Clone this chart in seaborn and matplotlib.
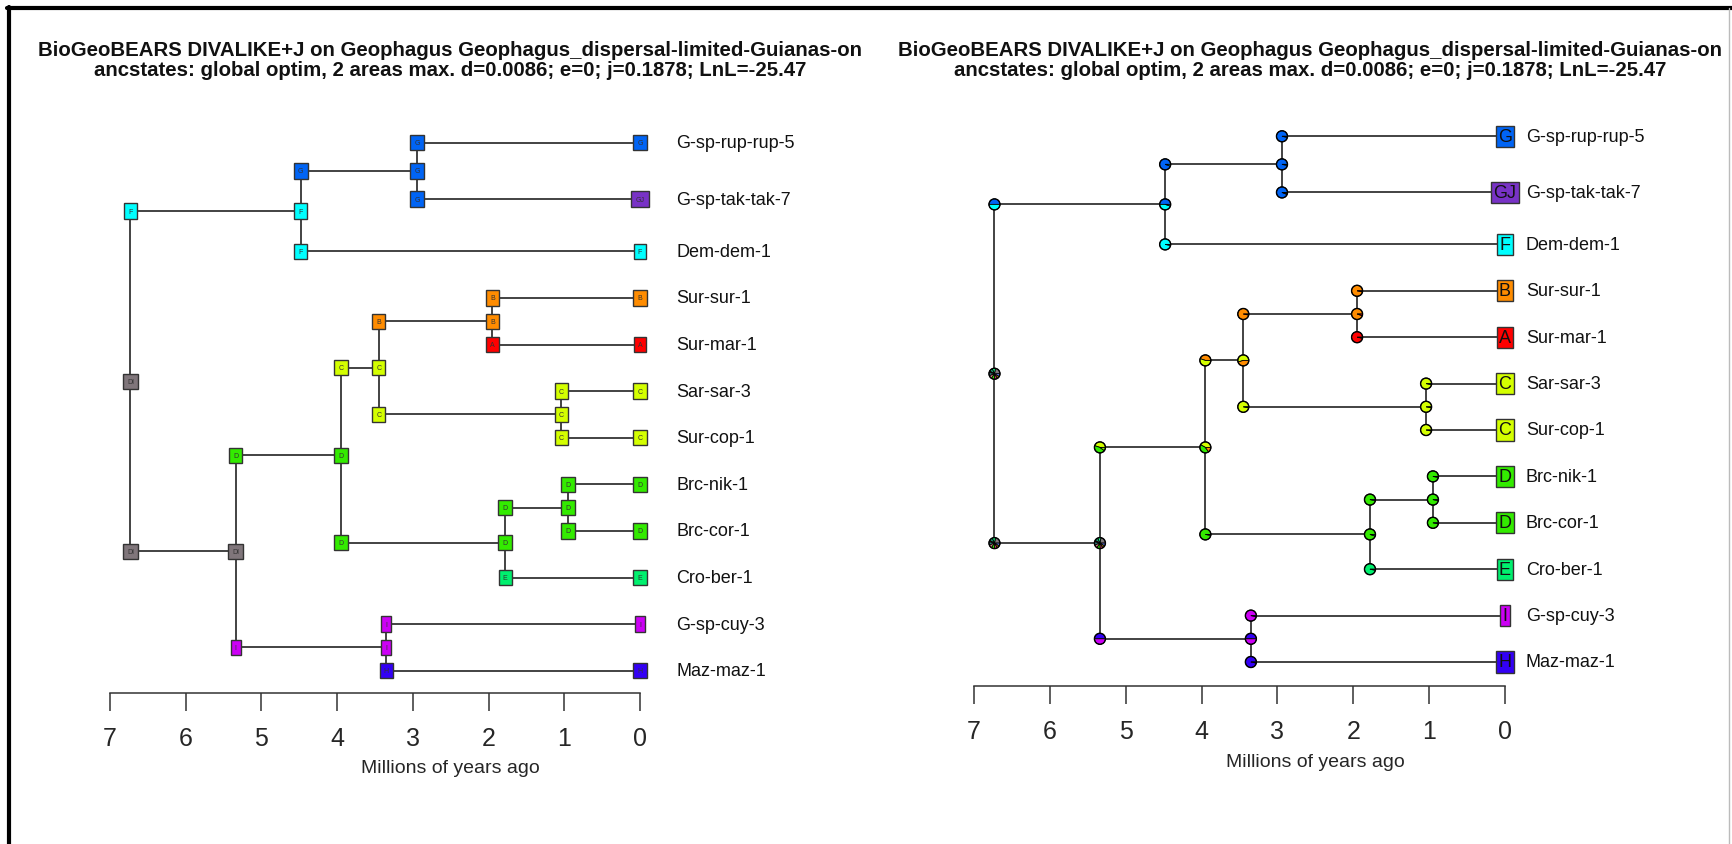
import numpy as np
import pandas as pd
import matplotlib
matplotlib.use("Agg")
import matplotlib.pyplot as plt
import seaborn as sns
from matplotlib.patches import Wedge, Circle
from matplotlib.transforms import ScaledTranslation
from matplotlib.lines import Line2D

# ---------------- data ----------------
title_line1 = "BioGeoBEARS DIVALIKE+J on Geophagus Geophagus_dispersal-limited-Guianas-on"
title_line2 = "ancstates: global optim, 2 areas max. d=0.0086; e=0; j=0.1878; LnL=-25.47"
xlabel_text = "Millions of years ago"
time_ticks = [0, 1, 2, 3, 4, 5, 6, 7]

tip_names = ["G-sp-rup-rup-5", "G-sp-tak-tak-7", "Dem-dem-1", "Sur-sur-1", "Sur-mar-1",
             "Sar-sar-3", "Sur-cop-1", "Brc-nik-1", "Brc-cor-1", "Cro-ber-1",
             "G-sp-cuy-3", "Maz-maz-1"]
tip_pos = [11.33, 10.12, 9, 8, 7, 6, 5, 4, 3, 2, 1, 0]
tip_states = ["G", "GJ", "F", "B", "A", "C", "C", "D", "D", "E", "I", "H"]

node_names = ["root", "nF", "nG", "nDI", "nD1", "nC1", "nB", "nC2", "nD2", "nD3", "nI"]
node_ages = [6.73, 4.48, 2.94, 5.34, 3.95, 3.45, 1.95, 1.04, 1.78, 0.95, 3.35]
node_children = [("nF", "nDI"), ("nG", "Dem-dem-1"), ("G-sp-rup-rup-5", "G-sp-tak-tak-7"),
                 ("nD1", "nI"), ("nC1", "nD2"), ("nB", "nC2"), ("Sur-sur-1", "Sur-mar-1"),
                 ("Sar-sar-3", "Sur-cop-1"), ("nD3", "Cro-ber-1"), ("Brc-nik-1", "Brc-cor-1"),
                 ("G-sp-cuy-3", "Maz-maz-1")]
# most probable states (left panel)
node_states = ["DI", "F", "G", "DI", "D", "C", "B", "C", "D", "D", "I"]
corner_states = [("F", "DI"), ("G", "F"), ("G", "G"), ("D", "I"), ("C", "D"), ("B", "C"),
                 ("B", "A"), ("C", "C"), ("D", "E"), ("D", "D"), ("I", "H")]

# state probabilities (right panel pies)
root_states = ["DI", "DF", "DG", "A", "DH", "CI", "D", "BI", "AD", "FI"]
root_probs = [0.22, 0.10, 0.10, 0.04, 0.10, 0.10, 0.10, 0.08, 0.08, 0.08]
node_pie_states = [root_states, ["G", "F", "FG"], ["G", "F"],
                   root_states, ["C", "D", "B"], ["C", "B"],
                   ["B", "A"], ["C", "D"], ["D", "E"], ["D", "E"], ["H", "I"]]
node_pie_probs = [root_probs, [0.50, 0.45, 0.05], [0.97, 0.03],
                  root_probs, [0.42, 0.43, 0.15], [0.55, 0.45],
                  [0.95, 0.05], [0.97, 0.03], [0.95, 0.05], [0.97, 0.03], [0.50, 0.50]]
corner_pie_states = [(["G", "F"], root_states),
                     (["G", "F"], ["F", "G"]),
                     (["G", "F"], ["G", "A", "F"]),
                     (["C", "D", "CD"], ["H", "I"]),
                     (["B", "C"], ["D", "E"]),
                     (["B", "A"], ["C", "D"]),
                     (["B", "A"], ["A", "B"]),
                     (["C", "D"], ["C", "D"]),
                     (["D", "E"], ["E", "D"]),
                     (["D", "E"], ["D", "E"]),
                     (["I", "H"], ["H", "I"])]
corner_pie_probs = [([0.50, 0.50], root_probs),
                    ([0.95, 0.05], [0.97, 0.03]),
                    ([0.97, 0.03], [0.94, 0.03, 0.03]),
                    ([0.45, 0.45, 0.10], [0.50, 0.50]),
                    ([0.45, 0.55], [0.97, 0.03]),
                    ([0.97, 0.03], [0.97, 0.03]),
                    ([0.97, 0.03], [0.97, 0.03]),
                    ([0.97, 0.03], [0.97, 0.03]),
                    ([0.97, 0.03], [0.97, 0.03]),
                    ([0.97, 0.03], [0.97, 0.03]),
                    ([0.97, 0.03], [0.97, 0.03])]

# ---------------- style ----------------
area_rgb = {"A": (255, 0, 0), "B": (255, 140, 0), "C": (212, 255, 0), "D": (51, 235, 0),
            "E": (0, 240, 110), "F": (0, 255, 255), "G": (0, 100, 245), "H": (51, 0, 245),
            "I": (204, 0, 245), "J": (240, 0, 150)}


def range_color(rng):
    arr = np.array([area_rgb[a] for a in rng], dtype=float).mean(axis=0) / 255.0
    return tuple(arr)


sns.set_style("white")
plt.rcParams["font.family"] = ["Liberation Sans", "DejaVu Sans"]

W, H = 1732, 845
DPI = 100
fig = plt.figure(figsize=(W / DPI, H / DPI), dpi=DPI)

name_to_idx = {n: i for i, n in enumerate(node_names)}
tip_to_idx = {n: i for i, n in enumerate(tip_names)}


def ypos(name):
    if name in tip_to_idx:
        return tip_pos[tip_to_idx[name]]
    c1, c2 = node_children[name_to_idx[name]]
    return (ypos(c1) + ypos(c2)) / 2.0


def age(name):
    if name in tip_to_idx:
        return 0.0
    return node_ages[name_to_idx[name]]


def make_axes(left_px, right_px, top_px, spine_px, x7_px, x0_px, y0_px, dy_px):
    ax = fig.add_axes([left_px / W, 1 - spine_px / H, (right_px - left_px) / W,
                       (spine_px - top_px) / H])
    s = (x0_px - x7_px) / 7.0
    xl = (7 + (x7_px - left_px) / s, -(right_px - x0_px) / s)
    yl = (-(spine_px - y0_px) / dy_px, (y0_px - top_px) / dy_px)
    return ax, xl, yl


def draw_branches(ax):
    rows = []
    seg = 0
    for i, n in enumerate(node_names):
        a = node_ages[i]
        c1, c2 = node_children[i]
        rows += [(seg, a, ypos(c1)), (seg, a, ypos(c2))]
        seg += 1
        for c in (c1, c2):
            rows += [(seg, a, ypos(c)), (seg, age(c), ypos(c))]
            seg += 1
    df = pd.DataFrame(rows, columns=["seg", "x", "y"])
    sns.lineplot(data=df, x="x", y="y", units="seg", estimator=None, sort=False,
                 color="#222222", linewidth=1.2, ax=ax, legend=False)


def style_axis(ax, xl, yl, lab_x, lab_y):
    ax.set_xlim(*xl)
    ax.set_ylim(*yl)
    for sp in ["left", "right", "top"]:
        ax.spines[sp].set_visible(False)
    ax.spines["bottom"].set_bounds(0, 7)
    ax.spines["bottom"].set_color("#333333")
    ax.spines["bottom"].set_linewidth(1.1)
    ax.set_yticks([])
    ax.set_ylabel("")
    ax.set_xticks(time_ticks)
    ax.set_xticklabels([str(t) for t in time_ticks])
    ax.tick_params(axis="x", direction="out", length=13, width=1.1, color="#333333",
                   pad=11, labelsize=18, bottom=True)
    ax.set_xlabel(xlabel_text, fontsize=14)
    ax.xaxis.set_label_coords(lab_x, lab_y)
    ax.patch.set_alpha(0)


def small_box(ax, x, y, st):
    ax.text(x, y, st, ha="center", va="center", fontsize=5, color="#333333", zorder=6,
            bbox=dict(boxstyle="square,pad=0.6", fc=range_color(st), ec="#333333", lw=1.0))


def big_box(ax, x, y, st):
    ax.text(x, y, st, ha="center", va="center", fontsize=13, color="#111111", zorder=6,
            bbox=dict(boxstyle="square,pad=0.12", fc=range_color(st), ec="#333333", lw=1.0))


def draw_pie(ax, x, y, states, probs, r_px=5.5):
    trans = fig.dpi_scale_trans + ScaledTranslation(x, y, ax.transData)
    r = r_px / DPI
    start = 0.0
    for st, p in zip(states, probs):
        end = start + 360.0 * p
        ax.add_patch(Wedge((0, 0), r, start, end, transform=trans, fc=range_color(st),
                           ec="black", lw=0.6, zorder=5))
        start = end
    ax.add_patch(Circle((0, 0), r, transform=trans, fc="none", ec="black", lw=1.0, zorder=5))


def tip_labels(ax, offset_pt):
    for n, y in zip(tip_names, tip_pos):
        ax.annotate(n, (0, y), xytext=(offset_pt, 0), textcoords="offset points", ha="left",
                    va="center", fontsize=13, color="#111111", annotation_clip=False)


# ---------------- left panel: boxes ----------------
axL, xlL, ylL = make_axes(100, 860, 110, 693.7, 110, 640, 671.7, 46.6)
draw_branches(axL)
for i, n in enumerate(node_names):
    a = node_ages[i]
    small_box(axL, a, ypos(n), node_states[i])
    for c, st in zip(node_children[i], corner_states[i]):
        small_box(axL, a, ypos(c), st)
for y, st in zip(tip_pos, tip_states):
    small_box(axL, 0, y, st)
tip_labels(axL, 26)
style_axis(axL, xlL, ylL, (450 - 100) / 760, (693.7 - 760.5) / (693.7 - 110))

# ---------------- right panel: pies ----------------
axR, xlR, ylR = make_axes(964, 1725, 110, 687, 974, 1505, 663, 46.4)
draw_branches(axR)
style_axis(axR, xlR, ylR, (1315 - 964) / 761, (687 - 754.5) / (687 - 110))
for i, n in enumerate(node_names):
    a = node_ages[i]
    draw_pie(axR, a, ypos(n), node_pie_states[i], node_pie_probs[i])
    for k, c in enumerate(node_children[i]):
        draw_pie(axR, a, ypos(c), corner_pie_states[i][k], corner_pie_probs[i][k])
for y, st in zip(tip_pos, tip_states):
    big_box(axR, 0, y, st)
tip_labels(axR, 15)

# ---------------- titles ----------------
for cx in (450, 1310):
    fig.text(cx / W, 1 - 50 / H, title_line1, ha="center", va="center", fontsize=14.7,
             fontweight="bold", color="#111111")
    fig.text(cx / W, 1 - 70.5 / H, title_line2, ha="center", va="center", fontsize=14.7,
             fontweight="bold", color="#111111")

# ---------------- frame ----------------
fig.add_artist(Line2D([9 / W, 9 / W], [0, 1 - 8 / H], transform=fig.transFigure,
                      color="black", lw=3))
fig.add_artist(Line2D([7 / W, 1], [1 - 9 / H, 1 - 9 / H], transform=fig.transFigure,
                      color="black", lw=3))
fig.add_artist(Line2D([1729 / W, 1729 / W], [0, 1 - 9 / H], transform=fig.transFigure,
                      color="#bbbbbb", lw=1))

fig.savefig("out.png", dpi=DPI, facecolor="white")
